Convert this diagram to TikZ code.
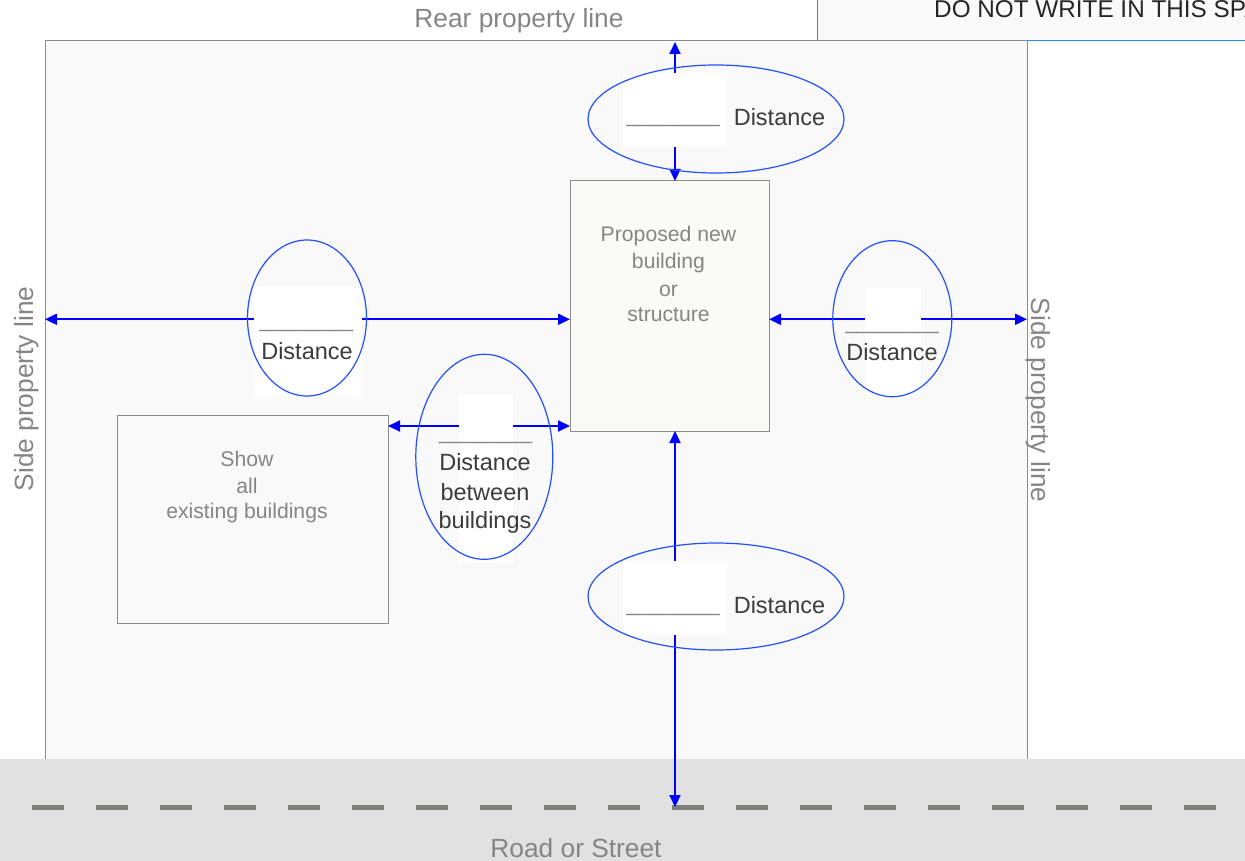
\documentclass[tikz,border=0pt]{standalone}
\usepackage{fontspec}
\setmainfont{Liberation Sans}
\usetikzlibrary{shapes.geometric,arrows.meta}
\definecolor{lblgray}{HTML}{858585}
\definecolor{linegray}{HTML}{8C8C8C}
\definecolor{darktext}{HTML}{3C3C3C}
\definecolor{bgfill}{HTML}{F9F9F9}
\definecolor{boxfill}{HTML}{FAFAF7}
\definecolor{roadfill}{HTML}{E1E1E1}
\definecolor{roaddash}{HTML}{7E7E7A}
\definecolor{arrowblue}{HTML}{0000FF}
\definecolor{ellblue}{HTML}{2350FF}
\definecolor{topblue}{HTML}{1E8CFF}
\definecolor{topfill}{HTML}{FAFAFA}
\tikzset{
  lbl/.style={inner sep=0pt, anchor=base, text=lblgray, font=\fontsize{26.3}{31}\selectfont},
  boxtxt/.style={inner sep=0pt, anchor=base, text=lblgray, font=\fontsize{21.2}{25}\selectfont},
  dist/.style={inner sep=0pt, anchor=base, text=darktext, font=\fontsize{23.5}{28}\selectfont},
  blank/.style={inner sep=0pt, anchor=base, text=lblgray, font=\fontsize{21}{25}\selectfont},
  bldg/.style={draw=linegray, line width=1pt, inner sep=0pt, outer sep=0pt},
  mask/.style={fill=white, inner sep=0pt, outer sep=0pt},
  oval/.style={ellipse, draw=ellblue, line width=1.2pt, inner sep=0pt, outer sep=0pt},
  arr/.style={draw=arrowblue, line width=2pt, {Triangle[length=12pt,width=11pt]}-{Triangle[length=12pt,width=11pt]}}
}
\begin{document}
\begin{tikzpicture}[x=1pt,y=-1pt]
\useasboundingbox (0,0) rectangle (1245,861);
% top-right reserved area
\fill[topfill] (817,0) rectangle (1245,41);
\begin{scope}
\clip (817,0) rectangle (1245,41);
\node[inner sep=0pt, anchor=base west, text=black!85, font=\fontsize{24.3}{28}\selectfont] (dnw) at (934,18) {DO NOT WRITE IN THIS SPACE};
\end{scope}
\draw[topblue, line width=1pt] (817,0) -- (817,41) -- (1245,41);
% property
\node[bldg, fill=bgfill, minimum width=982, minimum height=730] (lot) at (536,406) {};
% road
\fill[roadfill] (0,759) rectangle (1245,861);
\draw[roaddash, line width=5.5pt, dash pattern=on 32pt off 32pt] (32,807.5) -- (1216,807.5);
% labels
\node[lbl] (rear) at (519,28) {Rear property line};
\node[lbl] (road) at (576,857) {Road or Street};
\node[lbl, rotate=90] (sidel) at (33,389) {Side property line};
\node[lbl, rotate=-90] (sider) at (1031,400) {Side property line};
% buildings
\node[bldg, fill=boxfill, minimum width=199, minimum height=250] (new) at (669.5,306) {};
\node[bldg, fill=bgfill, minimum width=271, minimum height=208] (old) at (252.5,519) {};
\node[boxtxt] (n1) at (668.5,241.7) {Proposed new};
\node[boxtxt] (n2) at (668.5,269) {building};
\node[boxtxt] (n3) at (668.5,296) {or};
\node[boxtxt] (n4) at (668.5,321.7) {structure};
\node[boxtxt] (o1) at (247,466) {Show};
\node[boxtxt] (o2) at (247,493) {all};
\node[boxtxt] (o3) at (247,518) {existing buildings};
% arrow end points
\coordinate (rearpt) at (675,42);
\coordinate (newtop) at (675,181);
\coordinate (newbot) at (675,431);
\coordinate (roadpt) at (675,807);
\coordinate (leftpt) at (45,319.3);
\coordinate (newleftA) at (570,319.3);
\coordinate (newright) at (769,319.3);
\coordinate (rightpt) at (1027,319.3);
\coordinate (oldright) at (388,426);
\coordinate (newleftB) at (570,426);
% arrows
\draw[arr] (rearpt) -- (newtop);
\draw[arr] (newbot) -- (roadpt);
\draw[arr] (leftpt) -- (newleftA);
\draw[arr] (newright) -- (rightpt);
\draw[arr] (oldright) -- (newleftB);
% white label masks
\node[mask, minimum width=104, minimum height=74] (mtop) at (675,110) {};
\node[mask, minimum width=104, minimum height=74] (mbot) at (675,597.5) {};
\node[mask, minimum width=108, minimum height=110] (mleft) at (308,341.5) {};
\node[mask, minimum width=56, minimum height=109] (mright) at (893,342.5) {};
\node[mask, minimum width=54, minimum height=169] (mmid) at (486,478) {};
% ovals
\node[oval, minimum width=256, minimum height=108] (etop) at (716,119) {};
\node[oval, minimum width=256, minimum height=107] (ebot) at (716,596.5) {};
\node[oval, minimum width=119, minimum height=156] (eleft) at (307,318) {};
\node[oval, minimum width=119, minimum height=156] (eright) at (892.3,318.7) {};
\node[oval, minimum width=137, minimum height=205] (emid) at (484.3,456.8) {};
% blanks and distance texts
\node[blank] (btop) at (673,123) {\_\_\_\_\_\_\_\_};
\node[dist] (dtop) at (779.5,126) {Distance};
\node[blank] (bbot) at (673,611) {\_\_\_\_\_\_\_\_};
\node[dist] (dbot) at (779.5,613) {Distance};
\node[blank] (bleft) at (306.5,327) {\_\_\_\_\_\_\_\_};
\node[dist] (dleft) at (307,359) {Distance};
\node[blank] (bright) at (892,329) {\_\_\_\_\_\_\_\_};
\node[dist] (dright) at (892,360) {Distance};
\node[blank] (bmid) at (485.5,439) {\_\_\_\_\_\_\_\_};
\node[dist] (dmid1) at (485,470) {Distance};
\node[dist] (dmid2) at (485,500) {between};
\node[dist] (dmid3) at (485,528) {buildings};
\end{tikzpicture}
\end{document}
